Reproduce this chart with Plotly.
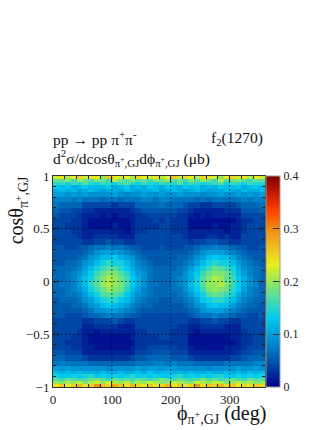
import plotly.graph_objects as go

# bin edges (finer near cos = +-1 where it climbs fast)
PHI_EDGES = [0, 10, 20, 30, 40, 50, 60, 70, 80, 90, 100, 110, 120, 130, 140, 150, 160, 170, 180,
             190, 200, 210, 220, 230, 240, 250, 260, 270, 280, 290, 300, 310, 320, 330, 340, 350, 360]
COS_EDGES = [1, .97, .94, .91, .88, .85, .8, .75, .7, .65, .6, .55, .5, .45, .4, .35, .3, .25, .2, .15, .1, .05, 0,
             -.05, -.1, -.15, -.2, -.25, -.3, -.35, -.4, -.45, -.5, -.55, -.6, -.65, -.7, -.75, -.8, -.85,
             -.88, -.91, -.94, -.97, -1]

# cross section in units of 0.01 ub, one row per cos bin from top to bottom
CROSS_SECTION = [
    [22, 24, 21, 23, 25, 22, 24, 23, 20, 26, 24, 22, 23, 21, 25, 23, 22, 24, 21, 23, 26, 22, 24, 23, 21, 25, 24, 22, 20, 23, 25, 22, 24, 21, 23, 22],
    [18, 17, 19, 16, 20, 18, 17, 19, 18, 16, 21, 18, 17, 19, 17, 18, 16, 19, 18, 20, 17, 18, 16, 19, 17, 20, 18, 16, 21, 17, 18, 19, 17, 16, 18, 17],
    [15, 16, 14, 16, 15, 17, 15, 14, 16, 15, 14, 16, 17, 15, 14, 16, 15, 14, 16, 15, 15, 17, 14, 16, 15, 14, 15, 16, 17, 14, 16, 15, 14, 16, 15, 15],
    [13, 12, 13, 11, 12, 13, 12, 12, 12, 13, 11, 12, 13, 11, 12, 11, 13, 12, 11, 13, 12, 11, 13, 12, 13, 11, 12, 11, 13, 12, 12, 13, 11, 12, 13, 12],
    [11, 12, 11, 12, 10, 11, 12, 11, 10, 11, 11, 10, 12, 11, 10, 11, 11, 12, 10, 11, 12, 11, 10, 11, 12, 11, 10, 11, 11, 12, 11, 10, 12, 11, 11, 12],
    [10, 10, 9, 10, 9, 10, 9, 9, 9, 9, 10, 9, 8, 9, 9, 10, 9, 9, 10, 9, 9, 10, 9, 9, 9, 8, 9, 9, 10, 9, 9, 10, 9, 10, 9, 10],
    [8, 8, 8, 7, 8, 7, 7, 7, 6, 7, 7, 6, 7, 7, 7, 8, 8, 7, 8, 8, 7, 7, 7, 7, 6, 7, 6, 7, 7, 7, 7, 7, 8, 7, 8, 8],
    [7, 6, 6, 6, 6, 4, 4, 4, 4, 4, 3, 4, 4, 4, 6, 6, 6, 6, 7, 6, 6, 6, 5, 4, 4, 3, 3, 4, 4, 4, 4, 5, 6, 6, 6, 7],
    [6, 5, 5, 4, 4, 3, 3, 2, 2, 2, 2, 2, 2, 3, 4, 5, 5, 5, 5, 5, 5, 4, 4, 3, 2, 2, 2, 2, 2, 3, 3, 3, 5, 5, 5, 6],
    [5, 4, 4, 4, 3, 2, 2, 2, 1, 2, 1, 2, 2, 2, 3, 3, 4, 4, 4, 4, 4, 3, 3, 2, 1, 2, 1, 2, 2, 2, 2, 2, 4, 4, 4, 4],
    [4, 4, 4, 3, 3, 2, 1, 1, 1, 1, 1, 1, 1, 2, 3, 3, 3, 4, 3, 4, 3, 3, 3, 1, 1, 1, 1, 1, 1, 1, 1, 2, 3, 3, 4, 4],
    [4, 4, 3, 3, 3, 2, 1, 1, 1, 1, 2, 1, 1, 2, 3, 3, 3, 3, 4, 4, 3, 3, 3, 1, 1, 1, 1, 2, 1, 1, 2, 2, 3, 4, 4, 4],
    [4, 4, 4, 3, 3, 2, 2, 2, 2, 2, 2, 2, 1, 2, 3, 3, 4, 4, 4, 4, 3, 3, 3, 2, 2, 2, 2, 2, 2, 1, 2, 2, 3, 4, 4, 4],
    [4, 4, 4, 4, 3, 2, 2, 3, 3, 3, 3, 2, 2, 2, 4, 4, 4, 4, 4, 4, 4, 4, 3, 2, 2, 2, 3, 3, 2, 3, 2, 2, 4, 4, 4, 4],
    [4, 4, 4, 4, 4, 3, 3, 4, 4, 5, 4, 4, 3, 3, 4, 4, 4, 4, 4, 4, 4, 4, 4, 3, 4, 4, 5, 5, 4, 4, 3, 3, 4, 4, 4, 4],
    [5, 5, 4, 4, 5, 5, 6, 7, 7, 8, 7, 7, 6, 5, 5, 4, 4, 4, 5, 4, 4, 4, 5, 5, 6, 7, 7, 8, 7, 7, 6, 5, 5, 4, 4, 5],
    [5, 5, 5, 5, 5, 6, 7, 9, 10, 10, 10, 9, 8, 7, 6, 5, 5, 5, 5, 5, 5, 5, 5, 6, 7, 9, 10, 10, 10, 9, 8, 7, 6, 5, 5, 5],
    [5, 5, 5, 5, 6, 7, 9, 10, 12, 12, 13, 11, 10, 9, 7, 6, 5, 5, 5, 5, 5, 6, 6, 7, 9, 10, 12, 13, 12, 12, 10, 8, 7, 6, 5, 5],
    [5, 5, 6, 6, 7, 9, 10, 12, 14, 15, 14, 14, 12, 10, 8, 7, 6, 5, 5, 5, 6, 6, 7, 8, 10, 12, 14, 15, 14, 14, 12, 10, 8, 7, 6, 5],
    [6, 6, 6, 7, 8, 10, 12, 14, 16, 17, 17, 15, 13, 11, 9, 8, 7, 6, 6, 6, 6, 7, 8, 10, 12, 14, 16, 18, 17, 16, 14, 11, 9, 8, 7, 6],
    [6, 6, 7, 8, 9, 11, 13, 16, 18, 19, 19, 17, 15, 12, 10, 9, 7, 6, 6, 6, 7, 7, 9, 11, 13, 16, 18, 19, 19, 18, 15, 12, 10, 8, 7, 6],
    [6, 6, 7, 8, 10, 12, 14, 17, 19, 21, 20, 18, 16, 13, 11, 9, 7, 6, 6, 6, 7, 8, 9, 11, 14, 17, 19, 21, 20, 18, 16, 13, 11, 9, 7, 6],
    [6, 7, 7, 8, 10, 12, 15, 17, 20, 21, 20, 19, 16, 13, 11, 9, 7, 7, 6, 6, 7, 8, 9, 12, 14, 17, 20, 20, 21, 19, 16, 13, 11, 9, 8, 6],
    [6, 6, 7, 8, 9, 11, 14, 16, 18, 20, 19, 18, 15, 12, 10, 8, 7, 6, 6, 6, 7, 7, 9, 11, 13, 16, 19, 20, 19, 18, 15, 13, 10, 8, 7, 6],
    [6, 6, 7, 7, 8, 10, 12, 14, 17, 17, 17, 16, 13, 11, 9, 8, 7, 6, 6, 6, 6, 7, 8, 10, 12, 14, 17, 18, 17, 16, 14, 11, 9, 8, 7, 6],
    [5, 6, 6, 6, 7, 9, 10, 12, 14, 15, 15, 13, 12, 10, 8, 7, 6, 6, 5, 5, 6, 6, 7, 8, 10, 13, 14, 15, 15, 14, 12, 10, 8, 7, 6, 6],
    [5, 5, 5, 6, 6, 7, 9, 10, 12, 13, 12, 11, 10, 8, 7, 6, 6, 5, 5, 5, 5, 5, 6, 7, 9, 10, 12, 13, 12, 12, 10, 8, 7, 6, 6, 5],
    [5, 5, 5, 5, 5, 6, 7, 9, 9, 10, 10, 9, 8, 7, 6, 5, 5, 5, 5, 5, 5, 5, 5, 6, 7, 9, 10, 10, 10, 9, 8, 7, 6, 5, 5, 5],
    [5, 5, 4, 4, 4, 5, 6, 6, 7, 8, 7, 7, 6, 5, 5, 4, 4, 4, 4, 4, 4, 4, 4, 5, 6, 7, 7, 8, 7, 7, 6, 5, 5, 4, 4, 5],
    [4, 4, 4, 4, 4, 3, 3, 4, 4, 4, 5, 4, 3, 3, 4, 4, 4, 4, 4, 4, 4, 4, 4, 3, 3, 4, 4, 5, 4, 4, 3, 3, 4, 4, 4, 4],
    [4, 4, 4, 4, 4, 2, 2, 3, 3, 3, 3, 2, 2, 2, 4, 4, 4, 4, 4, 4, 4, 3, 3, 2, 2, 3, 3, 3, 3, 2, 2, 2, 4, 4, 4, 4],
    [4, 4, 4, 4, 3, 2, 2, 1, 2, 2, 2, 2, 2, 2, 3, 3, 4, 4, 4, 4, 3, 3, 3, 2, 1, 2, 2, 2, 2, 2, 2, 2, 3, 4, 4, 4],
    [4, 4, 4, 3, 3, 2, 1, 1, 1, 1, 1, 1, 1, 2, 3, 3, 3, 3, 4, 4, 3, 3, 3, 1, 1, 1, 1, 1, 1, 1, 2, 2, 3, 3, 4, 4],
    [4, 4, 3, 3, 3, 2, 1, 1, 1, 1, 1, 1, 1, 1, 3, 3, 3, 3, 3, 3, 3, 3, 3, 1, 1, 1, 1, 1, 1, 1, 1, 2, 3, 3, 4, 4],
    [4, 4, 4, 3, 3, 2, 2, 1, 1, 1, 1, 1, 1, 2, 3, 3, 4, 4, 4, 4, 4, 3, 3, 2, 1, 1, 1, 1, 1, 2, 2, 2, 3, 4, 4, 4],
    [5, 5, 4, 4, 4, 2, 2, 2, 2, 2, 2, 2, 2, 2, 4, 4, 4, 5, 5, 5, 4, 4, 4, 2, 2, 2, 2, 2, 2, 2, 2, 3, 4, 4, 5, 5],
    [6, 6, 5, 5, 5, 4, 3, 3, 3, 3, 3, 3, 3, 4, 5, 5, 6, 6, 6, 6, 5, 5, 5, 4, 3, 3, 3, 3, 3, 3, 4, 4, 5, 6, 6, 6],
    [7, 8, 7, 7, 7, 7, 6, 6, 6, 6, 6, 6, 6, 6, 7, 7, 7, 8, 8, 7, 8, 7, 7, 7, 6, 6, 6, 6, 6, 7, 7, 7, 7, 7, 8, 8],
    [10, 9, 10, 9, 9, 9, 9, 9, 9, 8, 9, 9, 9, 9, 10, 9, 10, 10, 9, 10, 10, 9, 9, 9, 9, 9, 8, 9, 9, 9, 9, 10, 9, 9, 10, 9],
    [12, 11, 12, 11, 12, 11, 11, 11, 12, 11, 11, 12, 11, 11, 12, 11, 13, 11, 12, 12, 11, 12, 11, 12, 11, 11, 12, 11, 11, 12, 11, 12, 11, 12, 11, 12],
    [14, 13, 13, 14, 13, 14, 15, 13, 14, 13, 14, 13, 14, 15, 13, 14, 13, 14, 13, 13, 14, 15, 13, 14, 13, 14, 13, 14, 15, 13, 13, 14, 13, 14, 13, 14],
    [17, 16, 18, 17, 16, 17, 18, 19, 17, 16, 18, 17, 17, 16, 18, 17, 16, 17, 19, 17, 16, 18, 17, 16, 17, 19, 17, 18, 16, 17, 18, 17, 16, 18, 17, 17],
    [20, 19, 21, 20, 22, 19, 21, 22, 20, 23, 21, 20, 22, 19, 21, 20, 22, 21, 19, 20, 22, 21, 20, 19, 22, 21, 20, 22, 21, 19, 20, 22, 20, 21, 19, 20],
    [24, 26, 23, 25, 27, 24, 25, 30, 26, 25, 28, 26, 24, 27, 25, 23, 26, 24, 25, 27, 24, 26, 23, 25, 29, 24, 26, 25, 27, 24, 26, 23, 25, 24, 26, 25],
]

X_TICKS = [0, 100, 200, 300]
Y_TICKS = [-1, -0.5, 0, 0.5, 1]
Y_TICK_LABELS = ["\u22121", "\u22120.5", "0", "0.5", "1"]
Z_TICKS = [0, 0.1, 0.2, 0.3, 0.4]
Z_TICK_LABELS = ["0", "0.1", "0.2", "0.3", "0.4"]

# ROOT style rainbow palette
PALETTE = [
    [0.0, "#00008a"], [0.125, "#0058ac"], [0.25, "#009fdc"], [0.33, "#00cdf0"],
    [0.42, "#4fdca6"], [0.5, "#94e85a"], [0.58, "#e8f01c"], [0.66, "#f0c020"],
    [0.75, "#f08c10"], [0.83, "#ff4400"], [0.92, "#c21a00"], [1.0, "#7e0000"],
]

SERIF = "Liberation Serif"
W, H = 332, 430
L, R, T, B = 52.7, 265, 176, 387  # plot frame in pixels


def px_x(x):
    return (x - L) / (R - L)


def px_y(y):
    return (B - y) / (B - T)


z = [[v / 100 for v in row] for row in CROSS_SECTION[::-1]]

fig = go.Figure(
    go.Heatmap(
        x=PHI_EDGES,
        y=COS_EDGES[::-1],
        z=z,
        zmin=0,
        zmax=0.4,
        colorscale=PALETTE,
        colorbar=dict(
            x=1.005, xanchor="left", xpad=0, y=0, yanchor="bottom", ypad=0,
            len=1, thickness=14, outlinewidth=1, outlinecolor="#999999",
            tickmode="array", tickvals=Z_TICKS, ticktext=Z_TICK_LABELS,
            ticks="inside", ticklen=7, tickcolor="#333333",
            tickfont=dict(family=SERIF, size=12, color="#222222"),
        ),
    )
)

# grid lines have to sit on top of the heatmap
for t in X_TICKS[1:]:
    fig.add_shape(type="line", xref="x", yref="paper", x0=t, x1=t, y0=0, y1=1, layer="above",
                  line=dict(color="rgba(0,0,0,0.55)", width=1, dash="2px,2px"))
for t in Y_TICKS[1:-1]:
    fig.add_shape(type="line", xref="paper", yref="y", x0=0, x1=1, y0=t, y1=t, layer="above",
                  line=dict(color="rgba(0,0,0,0.55)", width=1, dash="2px,2px"))

axis_style = dict(
    showgrid=False, zeroline=False, showline=True, linecolor="#333333", linewidth=1,
    mirror="ticks", ticks="inside", ticklen=6, tickcolor="#222222",
    tickfont=dict(family=SERIF, size=13, color="#222222"),
)
fig.update_xaxes(range=[0, 360], tickmode="array", tickvals=X_TICKS,
                 minor=dict(dtick=20, ticks="inside", ticklen=3, tickcolor="#222222"), **axis_style)
fig.update_yaxes(range=[-1, 1], tickmode="array", tickvals=Y_TICKS, ticktext=Y_TICK_LABELS,
                 minor=dict(dtick=0.1, ticks="inside", ticklen=3, tickcolor="#222222"), **axis_style)

labels = [
    (51, 138, "left", 0, 15.5, "pp \u2192 pp \u03c0<sup>+</sup>\u03c0<sup>-</sup>"),
    (209, 138, "left", 0, 15.5, "f<sub>2</sub>(1270)"),
    (51, 158, "left", 0, 15.5, "d<sup>2</sup>\u03c3/dcos\u03b8<sub>\u03c0<sup>+</sup>,GJ</sub>d\u03d5<sub>\u03c0<sup>+</sup>,GJ</sub> (\u03bcb)"),
    (175, 414, "left", 0, 20, "\u03d5<sub>\u03c0<sup>+</sup>,GJ</sub> (deg)"),
    (17, 210, "center", -90, 20, "cos\u03b8<sub>\u03c0<sup>+</sup>,GJ</sub>"),
]
for x, y, align, angle, size, text in labels:
    fig.add_annotation(x=px_x(x), y=px_y(y), xref="paper", yref="paper", text=text, showarrow=False,
                       xanchor=align, yanchor="middle", textangle=angle,
                       font=dict(family=SERIF, size=size, color="#111111"))

fig.update_layout(
    width=W, height=H, margin=dict(l=L, r=W - R, t=T, b=H - B, pad=0),
    paper_bgcolor="white", plot_bgcolor="white", showlegend=False,
)

# page margin would shift everything by 8px
fig.write_html("out.html", config=dict(displayModeBar=False), post_script="document.body.style.margin='0';")
